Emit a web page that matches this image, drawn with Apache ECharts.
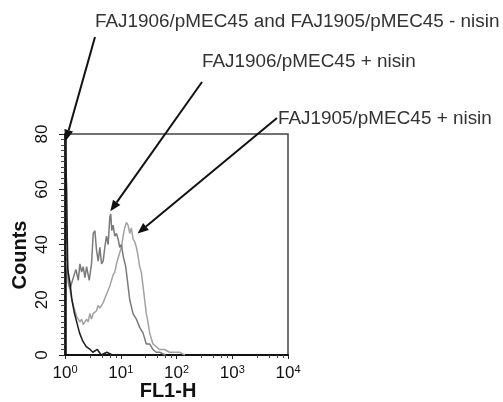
<!DOCTYPE html>
<html><head><meta charset="utf-8">
<script src="https://cdn.jsdelivr.net/npm/echarts@6/dist/echarts.min.js"></script>
<style>html,body{margin:0;padding:0;background:#fff}#c{width:503px;height:402px}</style>
</head><body><div id="c"></div>
<script>
// FL1-H values (log axis) and counts for each histogram
const ctrlFL = [1.00,1.07,1.12,1.23,1.33,1.48,1.62,1.82,2.09,2.40,2.82,3.16,3.80,4.47,5.62,7.08,10,31.6];
const ctrlCounts = [80,60,31,26,20,15,12,8,5,3,2,1,2,0,1,0,0,0];

const n1906FL = [1.07,1.15,1.23,1.41,1.57,1.73,1.85,1.99,2.12,2.28,2.44,2.72,2.99,3.21,3.44,3.67,3.94,4.22,4.52,4.84,5.18,5.55,5.94,6.37,6.62,6.90,7.29,7.82,8.38,8.95,9.59,10.28,11.02,12.27,13.52,14.49,16.6,19.05,21.83,25.06,28.71,32.96,37.76,43.35,49.66,63.1];
const n1906Counts = [40,26,24,28,31,27,33,30,32,28,32,27,33,44,45,38,34,39,33,34,39,43,40,50,51,45,47,43,44,42,39,40,36,32,25,20,15,13,10,8,4,4,2,1,1,0];

const n1905FL = [1.07,1.17,1.29,1.41,1.61,1.85,1.99,2.12,2.44,2.61,2.79,2.99,3.21,3.67,3.94,4.22,4.84,5.55,5.94,6.37,7.29,7.82,8.38,8.95,9.59,10.28,11.02,11.78,12.62,13.52,14.49,15.49,16.6,17.78,19.05,20.42,21.83,23.39,25.06,26.85,28.71,30.76,32.96,35.32,37.76,43.35,49.66,61.09,74.99,98.63,113.2,141.3];
const n1905Counts = [34,26,21,18,14,12,13,11,13,12,15,13,15,16,18,17,19,22,22,25,29,30,33,35,37,39,43,46,48,47,44,46,42,41,39,36,32,30,25,20,15,12,8,6,4,3,2,2,1,1,1,0];

const xTicks = [1,10,100,1000,10000];
const yTicks = [0,20,40,60,80];
const xName = 'FL1-H';
const yName = 'Counts';

// annotations: label text, label anchor (px), arrow start (px), arrow tip (data)
const annoTexts = ["FAJ1906/pMEC45 and FAJ1905/pMEC45 - nisin","FAJ1906/pMEC45 + nisin","FAJ1905/pMEC45 + nisin"];
const annoTextPos = [[95,22],[202,62],[278,119]];
const arrowStart = [[95,37],[202,82],[277,118]];
const arrowTip = [[1.03,77.5],[6.5,52],[20,44]];

const zip = (a,b)=>a.map((v,i)=>[v,b[i]]);
const chart = echarts.init(document.getElementById('c'));
const FONT = 'Liberation Sans, Arial, sans-serif';
chart.setOption({
  animation:false,
  backgroundColor:'#fff',
  grid:{left:65,right:215,top:134,bottom:47,show:true,borderColor:'#444',borderWidth:1.5,backgroundColor:'transparent'},
  xAxis:{type:'log',logBase:10,min:xTicks[0],max:xTicks[xTicks.length-1],
    axisLine:{lineStyle:{color:'#111',width:2}},
    axisTick:{show:true,inside:false,length:4,lineStyle:{color:'#222'}},
    minorTick:{show:true,splitNumber:5,length:3,lineStyle:{color:'#444'}},
    splitLine:{show:false},
    axisLabel:{margin:9,fontFamily:FONT,fontSize:17,color:'#111',
      formatter:v=>'10{s|'+Math.round(Math.log10(v))+'}',
      rich:{s:{fontFamily:FONT,fontSize:11,color:'#111',verticalAlign:'top',padding:[0,0,8,0]}}}
  },
  yAxis:{type:'value',min:yTicks[0],max:yTicks[yTicks.length-1],interval:20,
    axisLine:{show:true,lineStyle:{color:'#111',width:2.5}},
    axisTick:{show:true,inside:false,length:6,lineStyle:{color:'#222'}},
    minorTick:{show:true,splitNumber:10,length:4,lineStyle:{color:'#444'}},
    splitLine:{show:false},
    axisLabel:{rotate:90,margin:14,fontFamily:FONT,fontSize:17,color:'#111'}
  },
  series:[
    {type:'line',name:'ctrl',data:zip(ctrlFL,ctrlCounts),showSymbol:false,lineStyle:{color:'#1c1c1c',width:1.5},z:3},
    {type:'line',name:'1906',data:zip(n1906FL,n1906Counts),showSymbol:false,lineStyle:{color:'#7a7a7a',width:1.5},z:2},
    {type:'line',name:'1905',data:zip(n1905FL,n1905Counts),showSymbol:false,lineStyle:{color:'#a2a2a2',width:1.5},z:1}
  ]
});

const g = [];
g.push({type:'text',x:168,y:391,style:{text:xName,fontFamily:FONT,fontWeight:'bold',fontSize:20,fill:'#111',align:'center',verticalAlign:'middle'}});
g.push({type:'text',x:20,y:255,rotation:Math.PI/2,style:{text:yName,fontFamily:FONT,fontWeight:'bold',fontSize:20,fill:'#111',align:'center',verticalAlign:'middle'}});
annoTexts.forEach((t,i)=>{
  g.push({type:'text',x:annoTextPos[i][0],y:annoTextPos[i][1],scaleX:1.05,
    style:{text:t,fontFamily:FONT,fontSize:18,fill:'#333',align:'left',verticalAlign:'middle'}});
});
arrowStart.forEach((s,i)=>{
  const tip = chart.convertToPixel({gridIndex:0}, arrowTip[i]);
  const dx = tip[0]-s[0], dy = tip[1]-s[1];
  const L = Math.hypot(dx,dy), ux=dx/L, uy=dy/L;
  const hl=11, hw=4.5;
  const bx = tip[0]-ux*hl, by = tip[1]-uy*hl;
  g.push({type:'line',shape:{x1:s[0],y1:s[1],x2:bx,y2:by},style:{stroke:'#111',lineWidth:2},z:100});
  g.push({type:'polygon',shape:{points:[[tip[0],tip[1]],[bx-uy*hw,by+ux*hw],[bx+uy*hw,by-ux*hw]]},style:{fill:'#111'},z:100});
});
chart.setOption({graphic:g});
</script>
</body></html>
